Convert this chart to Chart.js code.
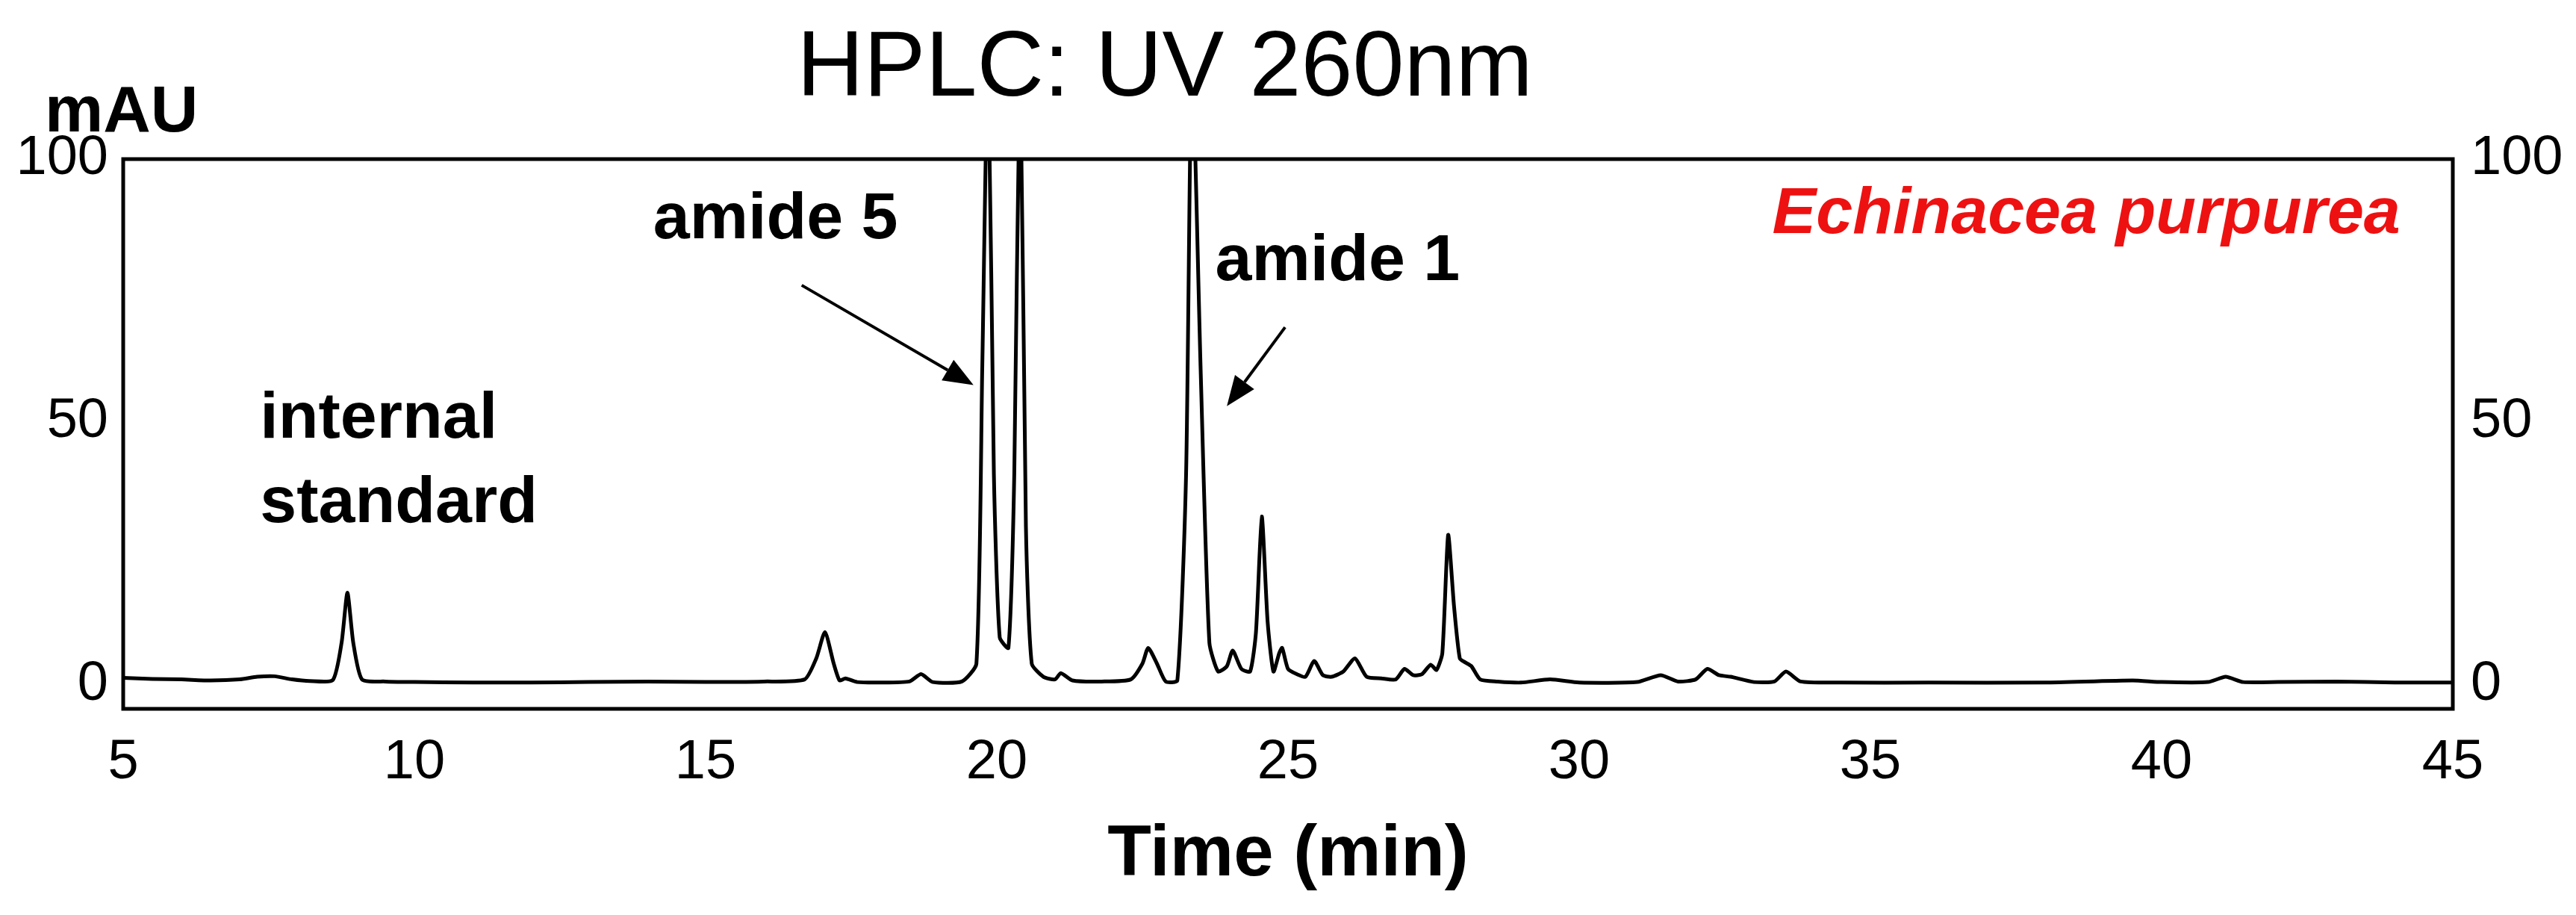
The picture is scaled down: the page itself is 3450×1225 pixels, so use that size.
<!DOCTYPE html>
<html>
<head>
<meta charset="utf-8">
<script src="https://cdn.jsdelivr.net/npm/chart.js@4"></script>
<style>
  body { margin: 0; background: #fff; }
  #wrap { width: 3450px; height: 1225px; }
</style>
</head>
<body>
<div id="wrap"><canvas id="hplc"></canvas></div>
<script>
// retention time (min) and absorbance (mAU)
const times = [5, 5.5, 6, 6.5, 7, 7.3, 7.6, 7.9, 8.2, 8.6, 8.75, 8.85, 8.95, 9.1, 9.5, 10, 11, 12, 13, 14, 15, 16, 16.7, 16.9, 17.05, 17.2, 17.3, 17.4, 17.6, 18, 18.5, 18.7, 18.9, 19.4, 19.65, 19.75, 19.85, 19.95, 20.05, 20.2, 20.3, 20.4, 20.5, 20.6, 20.8, 21.0, 21.1, 21.3, 21.8, 22.3, 22.5, 22.6, 22.75, 22.9, 23.1, 23.25, 23.35, 23.5, 23.65, 23.8, 23.95, 24.05, 24.2, 24.35, 24.45, 24.55, 24.65, 24.75, 24.85, 24.9, 25.0, 25.15, 25.3, 25.45, 25.6, 25.75, 25.95, 26.15, 26.35, 26.6, 26.85, 27.0, 27.15, 27.3, 27.45, 27.55, 27.65, 27.75, 27.85, 27.95, 28.05, 28.15, 28.3, 28.6, 29, 29.5, 30, 31, 31.4, 31.7, 32, 32.2, 32.4, 32.6, 33, 33.35, 33.55, 33.8, 34.5, 36, 38, 39.5, 40, 40.8, 41.1, 41.4, 42, 43, 44, 45];
const mau = [1.3, 1.1, 1.0, 0.8, 1.0, 1.5, 1.6, 1.0, 0.7, 0.9, 8, 17.5, 8, 1.0, 0.6, 0.5, 0.4, 0.4, 0.5, 0.6, 0.5, 0.6, 1.0, 5, 10, 4, 0.8, 1.2, 0.5, 0.4, 0.6, 2.0, 0.5, 0.6, 4, 60, 120, 40, 9, 7, 40, 120, 30, 4, 1.5, 1.0, 2.2, 0.8, 0.6, 1.0, 4, 7.0, 4, 0.6, 0.8, 40, 120, 60, 8, 2.5, 3.5, 6.5, 3, 2.5, 10, 32, 12, 2.5, 6, 7.0, 3, 2, 1.5, 4.5, 1.8, 1.5, 2.5, 5.0, 1.5, 1.2, 1.0, 3.0, 1.8, 2.0, 3.8, 2.8, 6, 28.5, 15, 5, 4.2, 3.5, 1.0, 0.6, 0.4, 1.0, 0.4, 0.5, 1.8, 0.6, 1.0, 3.0, 1.8, 1.5, 0.5, 0.6, 2.5, 0.6, 0.4, 0.4, 0.4, 0.8, 0.5, 0.5, 1.5, 0.5, 0.5, 0.6, 0.4, 0.4];
const xTicks = [5, 10, 15, 20, 25, 30, 35, 40, 45];
const yTicks = [0, 50, 100];

const trace = times.map((t, i) => ({ x: t, y: mau[i] }));

const labelsPlugin = {
  id: 'labels',
  afterDraw(chart) {
    const ctx = chart.ctx;
    const xs = chart.scales.x, ys = chart.scales.y;
    const a = chart.chartArea;
    ctx.save();
    // frame
    ctx.strokeStyle = '#000';
    ctx.lineWidth = 5;
    ctx.strokeRect(a.left, a.top, a.right - a.left, a.bottom - a.top);

    ctx.fillStyle = '#000';
    ctx.textBaseline = 'alphabetic';
    ctx.font = '124px "Liberation Sans", Arial, sans-serif';
    ctx.textAlign = 'center';
    ctx.fillText('HPLC: UV 260nm', 1560, 128);

    ctx.font = 'bold 88px "Liberation Sans", Arial, sans-serif';
    ctx.textAlign = 'left';
    ctx.fillText('mAU', 60, 176);

    ctx.fillText('internal', xs.getPixelForValue(7.35), ys.getPixelForValue(47));
    ctx.fillText('standard', xs.getPixelForValue(7.35), ys.getPixelForValue(31));
    ctx.fillText('amide 5', xs.getPixelForValue(14.1), ys.getPixelForValue(85));
    ctx.fillText('amide 1', xs.getPixelForValue(23.75), ys.getPixelForValue(77));

    ctx.fillStyle = '#ee1111';
    ctx.font = 'italic bold 88px "Liberation Sans", Arial, sans-serif';
    ctx.textAlign = 'right';
    ctx.fillText('Echinacea purpurea', xs.getPixelForValue(44.1), ys.getPixelForValue(86));

    // arrows
    const arrow = (x1, y1, x2, y2) => {
      const p1 = [xs.getPixelForValue(x1), ys.getPixelForValue(y1)];
      const p2 = [xs.getPixelForValue(x2), ys.getPixelForValue(y2)];
      const ang = Math.atan2(p2[1] - p1[1], p2[0] - p1[0]);
      const L = 40, W = 16;
      ctx.strokeStyle = '#000';
      ctx.fillStyle = '#000';
      ctx.lineWidth = 4;
      ctx.beginPath();
      ctx.moveTo(p1[0], p1[1]);
      ctx.lineTo(p2[0] - L * Math.cos(ang), p2[1] - L * Math.sin(ang));
      ctx.stroke();
      ctx.beginPath();
      ctx.moveTo(p2[0], p2[1]);
      ctx.lineTo(p2[0] - L * Math.cos(ang) + W * Math.sin(ang), p2[1] - L * Math.sin(ang) - W * Math.cos(ang));
      ctx.lineTo(p2[0] - L * Math.cos(ang) - W * Math.sin(ang), p2[1] - L * Math.sin(ang) + W * Math.cos(ang));
      ctx.closePath();
      ctx.fill();
    };
    arrow(16.65, 76, 19.6, 57);
    arrow(24.95, 68, 23.95, 53);
    ctx.restore();
  }
};

const tickFont = { family: '"Liberation Sans", Arial, sans-serif', size: 74 };

new Chart(document.getElementById('hplc'), {
  type: 'line',
  data: {
    datasets: [{
      data: trace,
      borderColor: '#000',
      borderWidth: 5,
      pointRadius: 0,
      tension: 0.2,
      fill: false,
    }],
  },
  options: {
    responsive: true,
    maintainAspectRatio: false,
    animation: false,
    layout: { padding: { top: 213, left: 10, right: 10, bottom: 22 } },
    plugins: { legend: { display: false }, tooltip: { enabled: false } },
    scales: {
      x: {
        type: 'linear',
        min: 5,
        max: 45,
        afterBuildTicks: s => { s.ticks = xTicks.map(v => ({ value: v })); },
        grid: { display: false, drawTicks: true, tickLength: 18, tickColor: '#000', tickWidth: 3 },
        border: { display: false },
        ticks: { color: '#000', font: tickFont, padding: 10, maxRotation: 0 },
        title: {
          display: true,
          text: 'Time (min)',
          color: '#000',
          font: { family: '"Liberation Sans", Arial, sans-serif', size: 96, weight: 'bold' },
          padding: { top: 12, bottom: 0 },
        },
      },
      y: {
        min: -4.6,
        max: 100,
        afterBuildTicks: s => { s.ticks = yTicks.map(v => ({ value: v })); },
        grid: { display: false, drawTicks: true, tickLength: 14, tickColor: '#000' },
        border: { display: false },
        ticks: { color: '#000', font: tickFont, padding: 6 },
        afterFit: s => { s.width = 155; },
      },
      y2: {
        position: 'right',
        min: -4.6,
        max: 100,
        afterBuildTicks: s => { s.ticks = yTicks.map(v => ({ value: v })); },
        grid: { display: false, drawTicks: true, tickLength: 14, tickColor: '#000' },
        border: { display: false },
        ticks: { color: '#000', font: tickFont, padding: 10 },
        afterFit: s => { s.width = 155; },
      },
    },
  },
  plugins: [labelsPlugin],
});
</script>
</body>
</html>
